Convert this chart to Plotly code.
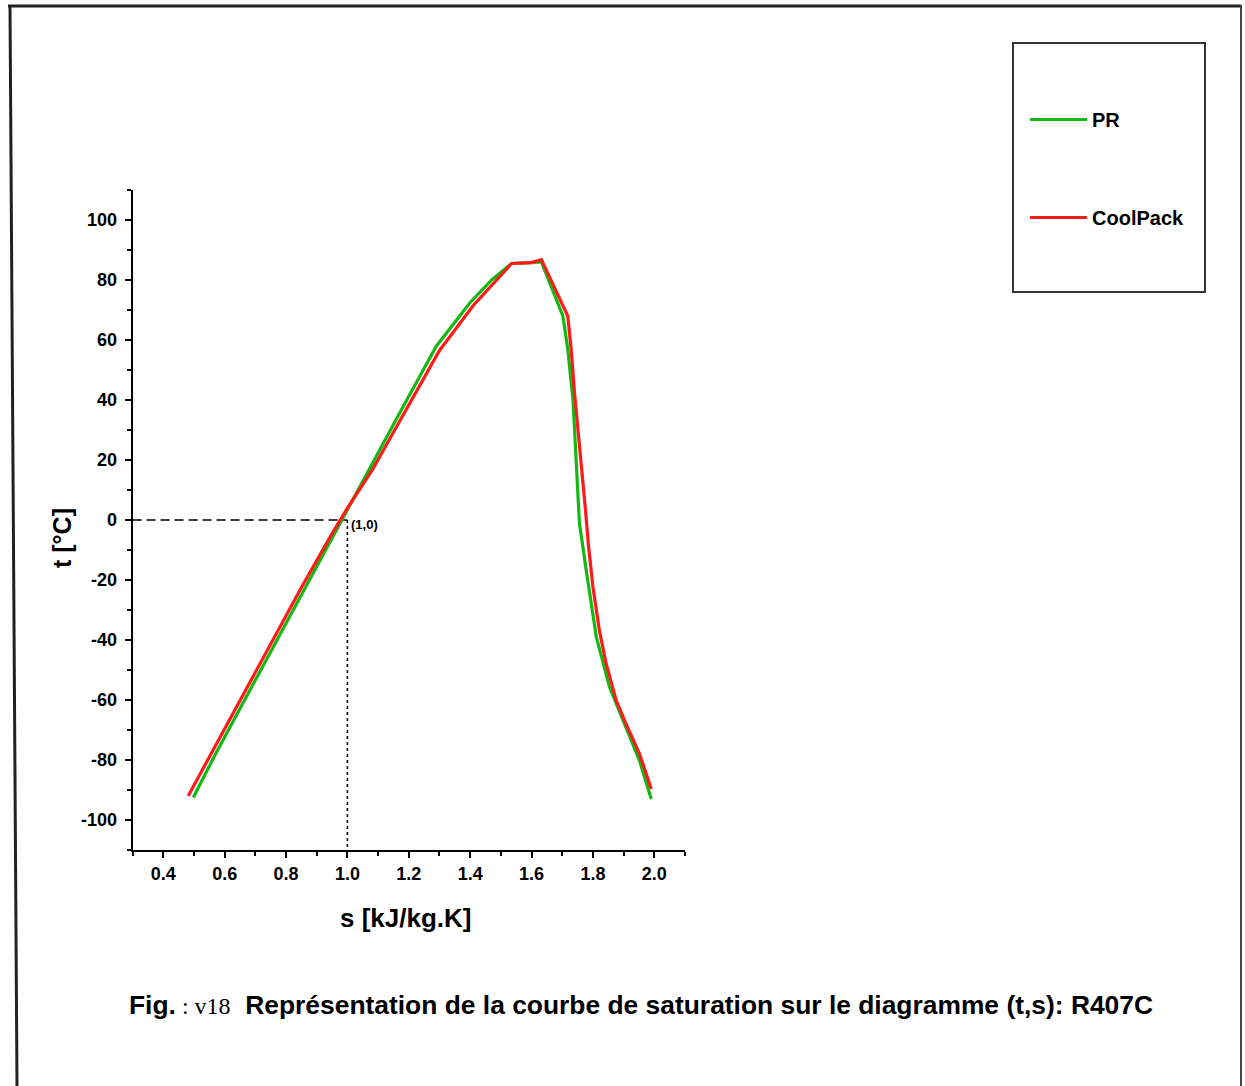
import plotly.graph_objects as go

W, H = 1245, 1086

# ---- data ----
# PR (green) saturation curve, s [kJ/kg.K] vs t [°C]
pr_s = [0.498, 0.565, 0.665, 0.765, 0.862, 0.958, 1.000, 1.075, 1.180, 1.290, 1.400, 1.470, 1.535,
        1.600, 1.632, 1.702, 1.718, 1.735, 1.743, 1.751, 1.756, 1.778, 1.811, 1.854, 1.908, 1.952, 1.990]
pr_t = [-92.5, -79.0, -60.0, -41.0, -22.5, -4.5, 3.5, 17.5, 37.5, 58.0, 72.5, 80.0, 85.5,
        85.8, 86.0, 68.0, 57.0, 40.0, 25.6, 12.0, -1.0, -16.7, -39.0, -55.7, -69.1, -80.3, -93.0]

# CoolPack (red) saturation curve
cp_s = [0.481, 0.550, 0.650, 0.750, 0.850, 0.950, 1.000, 1.080, 1.190, 1.300, 1.410, 1.480, 1.535,
        1.600, 1.632, 1.718, 1.729, 1.740, 1.754, 1.762, 1.776, 1.785, 1.800, 1.821, 1.843, 1.876,
        1.908, 1.952, 1.990]
cp_t = [-92.0, -79.0, -60.0, -41.0, -22.5, -4.5, 4.0, 16.5, 36.5, 56.5, 71.5, 79.5, 85.5,
        85.8, 86.8, 68.0, 57.0, 42.4, 28.0, 19.0, 3.0, -8.0, -22.3, -36.8, -47.9, -60.2,
        -68.0, -78.0, -89.7]

# reference point (1,0)
ref_s = 1.0
ref_t = 0.0

x_range = [0.3, 2.1]
y_range = [-110, 110]
x_ticks = [0.4, 0.6, 0.8, 1.0, 1.2, 1.4, 1.6, 1.8, 2.0]
x_tick_labels = ["0.4", "0.6", "0.8", "1.0", "1.2", "1.4", "1.6", "1.8", "2.0"]
y_ticks = [-100, -80, -60, -40, -20, 0, 20, 40, 60, 80, 100]
y_tick_labels = ["-100", "-80", "-60", "-40", "-20", "0", "20", "40", "60", "80", "100"]

FONT = "Liberation Sans, Arial, Helvetica, sans-serif"


def px(x):
    return x / W


def py(y):
    return 1 - y / H


fig = go.Figure()

# reference dashed / dotted lines
fig.add_trace(go.Scatter(x=[x_range[0], ref_s], y=[ref_t, ref_t], mode="lines",
                         line=dict(color="black", width=1.6, dash="9px,5px"),
                         showlegend=False, hoverinfo="skip"))
fig.add_trace(go.Scatter(x=[ref_s, ref_s], y=[ref_t, y_range[0]], mode="lines",
                         line=dict(color="black", width=1.5, dash="dot"),
                         showlegend=False, hoverinfo="skip"))

fig.add_trace(go.Scatter(x=pr_s, y=pr_t, mode="lines", name="PR",
                         line=dict(color="#14b814", width=3.2), legendgroup="a"))
fig.add_trace(go.Scatter(x=cp_s, y=cp_t, mode="lines", name="CoolPack",
                         line=dict(color="#ff1a1a", width=3.2), legendgroup="b"))

axis_common = dict(showline=True, linecolor="black", linewidth=2, ticks="outside",
                   tickwidth=2, ticklen=6, tickcolor="black", showgrid=False, zeroline=False,
                   mirror=False, tickfont=dict(family=FONT, size=18, color="black", weight="bold"))

fig.update_layout(
    width=W, height=H,
    margin=dict(l=0, r=0, t=0, b=0),
    paper_bgcolor="white", plot_bgcolor="white",
    font=dict(family=FONT, color="black"),
    xaxis=dict(range=x_range, domain=[px(132.6), px(685)], tickmode="array",
               tickvals=x_ticks, ticktext=x_tick_labels,
               minor=dict(dtick=0.1, ticks="outside", ticklen=4, tickwidth=1.5, tickcolor="black"),
               **axis_common),
    yaxis=dict(range=y_range, domain=[py(850), py(190)], tickmode="array",
               tickvals=y_ticks, ticktext=y_tick_labels, ticklabelstandoff=4,
               minor=dict(dtick=10, ticks="outside", ticklen=4, tickwidth=1.5, tickcolor="black"),
               **axis_common),
    legend=dict(x=px(1025), y=py(100), xanchor="left", yanchor="top",
                bgcolor="rgba(0,0,0,0)", borderwidth=0,
                font=dict(family=FONT, size=20, color="black", weight="bold"),
                traceorder="grouped", tracegroupgap=69, itemwidth=57),
    showlegend=True,
)

# legend frame
fig.add_shape(type="rect", xref="paper", yref="paper",
              x0=px(1013), x1=px(1205), y0=py(292), y1=py(43),
              line=dict(color="#333333", width=2))

# outer figure frame (scanned border)
fig.add_shape(type="line", xref="paper", yref="paper", x0=px(8), x1=px(1241), y0=py(6), y1=py(6),
              line=dict(color="#222222", width=3))
fig.add_shape(type="line", xref="paper", yref="paper", x0=px(10), x1=px(17), y0=py(5), y1=py(1086),
              line=dict(color="#222222", width=3))
fig.add_shape(type="line", xref="paper", yref="paper", x0=px(1241), x1=px(1241), y0=py(5), y1=py(1086),
              line=dict(color="#444444", width=2))

# point label
fig.add_annotation(x=ref_s, y=ref_t, xref="x", yref="y", text="(1,0)", showarrow=False,
                   xanchor="left", yanchor="middle", xshift=2, yshift=-4,
                   font=dict(family=FONT, size=13, color="black", weight="bold"))

# axis titles
fig.add_annotation(x=px(406), y=py(918), xref="paper", yref="paper", text="s [kJ/kg.K]",
                   showarrow=False, xanchor="center", yanchor="middle",
                   font=dict(family=FONT, size=26, color="black", weight="bold"))
fig.add_annotation(x=px(62), y=py(538), xref="paper", yref="paper", text="t [°C]",
                   showarrow=False, xanchor="center", yanchor="middle", textangle=-90,
                   font=dict(family=FONT, size=25, color="black", weight="bold"))

# caption
fig.add_annotation(x=px(127), y=py(1005), xref="paper", yref="paper",
                   text="Fig.<span style='font-family:Liberation Serif, Times New Roman, serif;font-size:24px;font-weight:normal'>&nbsp;:&nbsp;v18</span>&nbsp;&nbsp;Représentation de la courbe de saturation sur le diagramme (t,s): R407C",
                   showarrow=False, xanchor="left", yanchor="middle",
                   font=dict(family=FONT, size=26.4, color="black", weight="bold"))

fig.write_html("out.html", config={"displayModeBar": False},
               post_script="document.body.style.margin='0px';document.body.style.overflow='hidden';")
